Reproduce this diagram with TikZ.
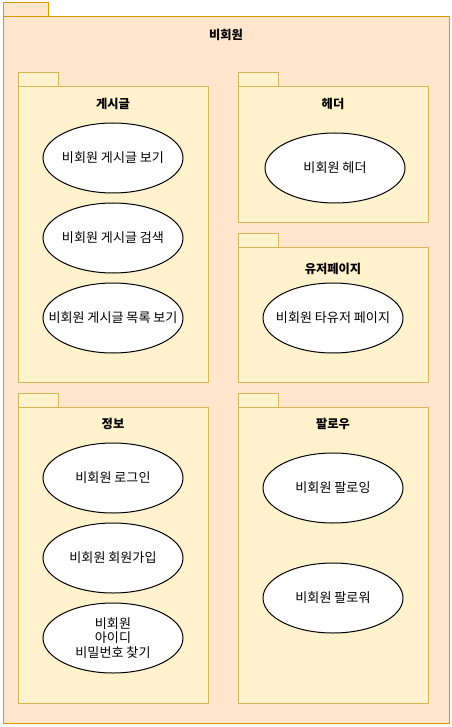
\documentclass[tikz,border=0pt]{standalone}
\usepackage{fontspec}
\newfontfamily\kr{Noto Sans CJK KR}
\usetikzlibrary{shapes.geometric, positioning}

\definecolor{outerfill}{HTML}{FFE6CC}
\definecolor{outerline}{HTML}{D79B00}
\definecolor{pkgfill}{HTML}{FFF2CC}
\definecolor{pkgline}{HTML}{D6B656}

\begin{document}
\begin{tikzpicture}[x=0.75pt, y=-0.75pt, line width=0.75pt,
    font=\kr\fontsize{9.8pt}{10.9pt}\selectfont,
    outerpkg/.style={draw=outerline, fill=outerfill},
    pkg/.style={draw=pkgline, fill=pkgfill},
    title/.style={font=\kr\fontsize{9.2pt}{11pt}\selectfont\bfseries},
    usecase/.style={draw, ellipse, fill=white, minimum width=105pt,
        minimum height=52.5pt, align=center, inner xsep=-12pt, inner ysep=0pt}]
    \useasboundingbox (0,0) rectangle (452,727);

    % 비회원
    \draw[outerpkg] (3,3) rectangle (48,17);
    \draw[outerpkg] (3,17) rectangle (449,723);
    \node[title] (nonmember) at (226,35) {비회원};

    % 게시글
    \draw[pkg] (18,73) rectangle (58,87);
    \draw[pkg] (18,87) rectangle (208,382);
    \node[title] (post) at (113,104) {게시글};
    \node[usecase] (postview) at (113,158) {비회원 게시글 보기};
    \node[usecase] (postsearch) at (113,238) {비회원 게시글 검색};
    \node[usecase] (postlist) at (113,318) {비회원 게시글 목록 보기};

    % 헤더
    \draw[pkg] (238,73) rectangle (278,87);
    \draw[pkg] (238,87) rectangle (428,222);
    \node[title] (header) at (333,104) {헤더};
    \node[usecase] (headeruse) at (335,168) {비회원 헤더};

    % 유저페이지
    \draw[pkg] (238,233) rectangle (278,247);
    \draw[pkg] (238,247) rectangle (428,382);
    \node[title] (userpage) at (333,269) {유저페이지};
    \node[usecase] (otheruser) at (333,318) {비회원 타유저 페이지};

    % 정보
    \draw[pkg] (18,393) rectangle (58,407);
    \draw[pkg] (18,407) rectangle (208,703);
    \node[title] (info) at (113,424) {정보};
    \node[usecase] (login) at (113,478) {비회원 로그인};
    \node[usecase] (signup) at (113,558) {비회원 회원가입};
    \node[usecase] (findid) at (113,638) {비회원\\아이디\\비밀번호 찾기};

    % 팔로우
    \draw[pkg] (238,393) rectangle (278,407);
    \draw[pkg] (238,407) rectangle (428,703);
    \node[title] (follow) at (333,424) {팔로우};
    \node[usecase] (following) at (333,488) {비회원 팔로잉};
    \node[usecase] (follower) at (333,598) {비회원 팔로워};
\end{tikzpicture}
\end{document}
